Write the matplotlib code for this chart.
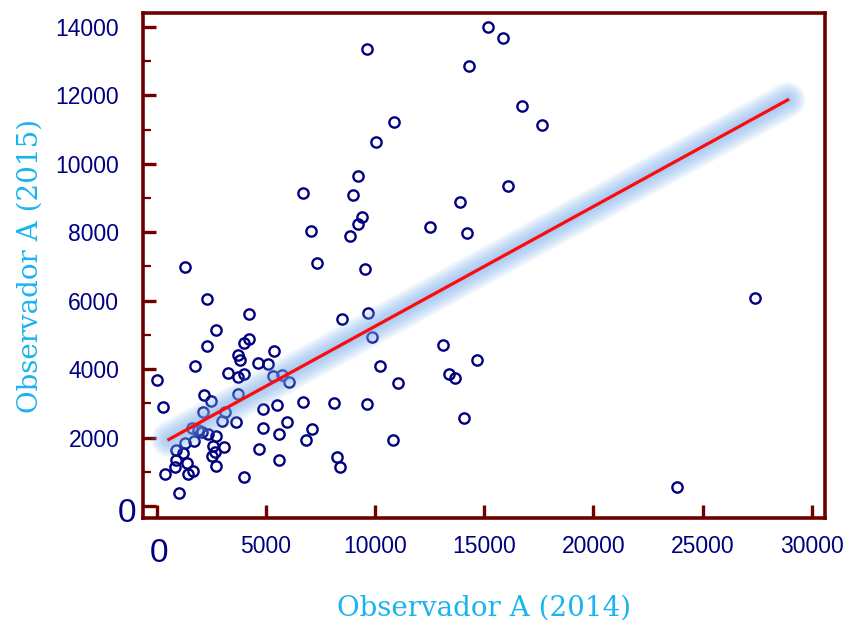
import matplotlib
matplotlib.use("Agg")
import matplotlib.pyplot as plt
import matplotlib.transforms as mtransforms
import numpy as np

# Observador A, 2014 (x) vs 2015 (y)
obs_2014 = [15160, 15850, 9630, 14290, 16720, 17660, 10860, 10030, 9210, 6700,
            9000, 16100, 13880, 9420, 9210, 7050, 8850, 12530, 14230, 7330,
            9550, 1300, 27400, 2300, 4210, 9690, 8470, 2700, 9850, 4210,
            4010, 2300, 13130, 14680, 5360, 3740, 3820, 1770, 4630, 5080,
            10230, 3270, 3740, 4010, 5340, 5730, 6080, 11040, 13390, 13660,
            0, 2180, 2490, 3740, 300, 6710, 8130, 9620, 5510, 4880,
            2110, 3130, 14070, 2980, 3620, 5950, 7110, 4880, 5600, 6850,
            10840, 1600, 1880, 2090, 2360, 2720, 1300, 880, 1720, 2590,
            3080, 2670, 2520, 1220, 870, 1370, 840, 1650, 1420, 2720,
            380, 4010, 1040, 4690, 5620, 8270, 8410, 23820]
obs_2015 = [14000, 13670, 13340, 12850, 11690, 11130, 11210, 10630, 9640, 9150,
            9080, 9360, 8870, 8450, 8250, 8040, 7880, 8160, 7970, 7090,
            6920, 6970, 6070, 6060, 5620, 5630, 5450, 5130, 4950, 4890,
            4750, 4670, 4700, 4270, 4520, 4400, 4270, 4090, 4170, 4140,
            4090, 3890, 3780, 3850, 3810, 3830, 3610, 3600, 3860, 3730,
            3680, 3240, 3070, 3270, 2900, 3030, 3020, 2990, 2950, 2830,
            2740, 2760, 2580, 2490, 2450, 2450, 2250, 2270, 2090, 1920,
            1920, 2270, 2220, 2170, 2090, 2050, 1830, 1640, 1910, 1750,
            1720, 1590, 1460, 1540, 1340, 1270, 1130, 1020, 930, 1170,
            930, 850, 390, 1670, 1340, 1430, 1130, 560]

# regression line
fit_slope = 0.350
fit_intercept = 1750
fit_x_range = [560, 28900]

x_ticks = [0, 5000, 10000, 15000, 20000, 25000, 30000]
x_tick_labels = ["0", "5000", "10000", "15000", "20000", "25000", "30000"]
y_ticks = [0, 2000, 4000, 6000, 8000, 10000, 12000, 14000]
y_tick_labels = ["0", "2000", "4000", "6000", "8000", "10000", "12000", "14000"]
y_minor_ticks = [1000, 3000, 5000, 7000, 9000, 11000, 13000]

navy = "#000080"
maroon = "#6e0000"
label_blue = "#1ab4ee"

plt.rcParams["font.family"] = ["Liberation Sans", "DejaVu Sans"]

fig = plt.figure(figsize=(8.48, 6.26), dpi=100)
ax = fig.add_axes([0.1686, 0.172, 0.8043, 0.8066])

ax.plot(obs_2014, obs_2015, "o", ms=7.4, mfc="none", mec=navy, mew=1.7, zorder=2)

# soft glow under the fit line
line_x = np.array(fit_x_range, dtype=float)
line_y = fit_slope * line_x + fit_intercept
for w in range(26, 3, -2):
    ax.plot(line_x, line_y, color="#7db1f0", lw=w, alpha=0.075,
            solid_capstyle="round", zorder=3)
ax.plot(line_x, line_y, color="#ff0a0a", lw=2.3, zorder=4)

ax.set_xlim(-627, 30608)
ax.set_ylim(-359, 14392)

for sp in ax.spines.values():
    sp.set_color(maroon)
    sp.set_linewidth(2.6)

ax.set_xticks(x_ticks, labels=x_tick_labels)
ax.set_yticks(y_ticks, labels=y_tick_labels)
ax.set_yticks(y_minor_ticks, minor=True)
ax.tick_params(which="major", direction="in", length=9.5, width=2.4,
               color=maroon, labelcolor=navy, labelsize=16.5)
ax.tick_params(which="minor", direction="in", length=5.5, width=1.6, color=maroon)
ax.tick_params(axis="y", pad=17)
ax.tick_params(axis="x", pad=12)

# the zero labels are drawn bigger
for lab in ax.get_xticklabels():
    if lab.get_text() == "0":
        lab.set_fontsize(24)
        lab.set_transform(lab.get_transform() + mtransforms.ScaledTranslation(
            2 / 72, -2 / 72, fig.dpi_scale_trans))
for lab in ax.get_yticklabels():
    if lab.get_text() == "0":
        lab.set_fontsize(24)
        lab.set_transform(lab.get_transform() + mtransforms.ScaledTranslation(
            12 / 72, -3 / 72, fig.dpi_scale_trans))

ax.set_xlabel("Observador A (2014)", family="DejaVu Serif", fontsize=20,
              color=label_blue, va="center")
ax.set_ylabel("Observador A (2015)", family="DejaVu Serif", fontsize=20,
              color=label_blue, va="center")
ax.xaxis.set_label_coords(0.5, -0.178)
ax.yaxis.set_label_coords(-0.166, 0.5)

fig.savefig("out.png", dpi=100)
